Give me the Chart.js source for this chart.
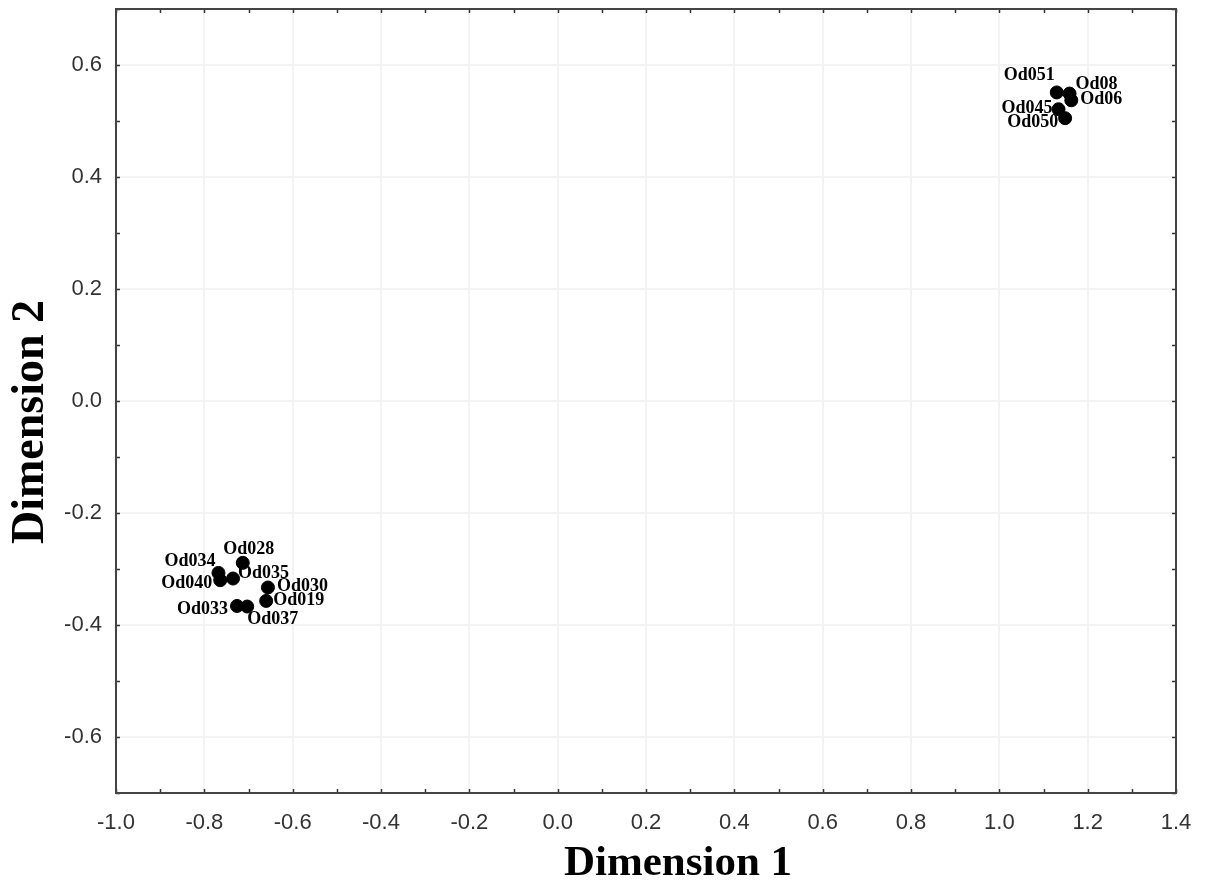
<!DOCTYPE html>
<html>
<head>
<meta charset="utf-8">
<script src="https://cdn.jsdelivr.net/npm/chart.js@4/dist/chart.umd.min.js"></script>
<style>
    html, body { margin: 0; padding: 0; background: #fff; }
    #wrap { width: 1205px; height: 888px; }
</style>
</head>
<body>
<div id="wrap"><canvas id="mdsChart"></canvas></div>
<script>
// point names and coordinates
var names = ['Od051', 'Od08', 'Od06', 'Od045', 'Od050', 'Od028', 'Od034', 'Od040', 'Od035', 'Od030', 'Od019', 'Od033', 'Od037'];
var dim1 = [1.130, 1.159, 1.163, 1.134, 1.149, -0.713, -0.768, -0.764, -0.735, -0.656, -0.660, -0.726, -0.703];
var dim2 = [0.551, 0.549, 0.537, 0.521, 0.505, -0.289, -0.307, -0.320, -0.317, -0.333, -0.357, -0.366, -0.367];

// axis ticks
var xTicks = [-1.0, -0.8, -0.6, -0.4, -0.2, 0.0, 0.2, 0.4, 0.6, 0.8, 1.0, 1.2, 1.4];
var yTicks = [-0.6, -0.4, -0.2, 0.0, 0.2, 0.4, 0.6];
var xMinor = [-0.9, -0.7, -0.5, -0.3, -0.1, 0.1, 0.3, 0.5, 0.7, 0.9, 1.1, 1.3];
var yMinor = [-0.7, -0.5, -0.3, -0.1, 0.1, 0.3, 0.5, 0.7];

// label placement next to each point: [dx, dy, align]
var labelPlace = [
    [-2, -17, 'right'], [6, -9, 'left'], [9, -1, 'left'], [-6, -1, 'right'], [-7, 4, 'right'],
    [6, -13, 'center'], [-3, -12, 'right'], [-8, 3, 'right'], [5, -5, 'left'],
    [9, -1, 'left'], [7, -1, 'left'], [-9, 3, 'right'], [0, 13, 'left']
];

var points = names.map(function (n, i) { return { x: dim1[i], y: dim2[i], name: n }; });

var framePlugin = {
    id: 'frame',
    afterDatasetsDraw: function (chart) {
        var ctx = chart.ctx, a = chart.chartArea;
        var xs = chart.scales.x, ys = chart.scales.y;
        ctx.save();
        // inward ticks on all four sides
        ctx.strokeStyle = '#333';
        ctx.lineWidth = 1.5;
        ctx.beginPath();
        xTicks.concat(xMinor).forEach(function (v) {
            var px = Math.round(xs.getPixelForValue(v)) + 0.5;
            ctx.moveTo(px, a.bottom); ctx.lineTo(px, a.bottom - 4);
            ctx.moveTo(px, a.top); ctx.lineTo(px, a.top + 4);
        });
        yTicks.concat(yMinor).forEach(function (v) {
            var py = Math.round(ys.getPixelForValue(v)) + 0.5;
            ctx.moveTo(a.left, py); ctx.lineTo(a.left + 4, py);
            ctx.moveTo(a.right, py); ctx.lineTo(a.right - 4, py);
        });
        ctx.stroke();
        // box
        ctx.strokeStyle = '#444';
        ctx.lineWidth = 2;
        ctx.strokeRect(a.left, a.top, a.right - a.left, a.bottom - a.top);

        // point labels
        ctx.fillStyle = '#000';
        ctx.font = 'bold 18px "Liberation Serif", "Times New Roman", serif';
        ctx.textBaseline = 'middle';
        points.forEach(function (p, i) {
            var pl = labelPlace[i];
            ctx.textAlign = pl[2];
            ctx.fillText(p.name, xs.getPixelForValue(p.x) + pl[0], ys.getPixelForValue(p.y) + pl[1]);
        });

        // axis titles
        ctx.textAlign = 'center';
        ctx.font = 'bold 43px "Liberation Serif", "Times New Roman", serif';
        ctx.fillText('Dimension 1', (a.left + a.right) / 2 + 32, 864);
        ctx.translate(31, (a.top + a.bottom) / 2 + 21);
        ctx.rotate(-Math.PI / 2);
        ctx.font = 'bold 46px "Liberation Serif", "Times New Roman", serif';
        ctx.fillText('Dimension 2', 0, 0);
        ctx.restore();
    }
};

var ctx = document.getElementById('mdsChart').getContext('2d');
new Chart(ctx, {
    type: 'scatter',
    data: {
        datasets: [{
            label: 'Objects',
            data: points,
            backgroundColor: '#000',
            borderColor: '#000',
            pointRadius: 6.5,
            pointHoverRadius: 6.5
        }]
    },
    options: {
        responsive: true,
        maintainAspectRatio: false,
        animation: false,
        layout: { padding: { top: 9, right: 29, left: 0, bottom: 0 } },
        plugins: {
            legend: { display: false },
            tooltip: { enabled: false }
        },
        scales: {
            x: {
                type: 'linear',
                min: -1.0,
                max: 1.4,
                afterBuildTicks: function (s) { s.ticks = xTicks.map(function (v) { return { value: v }; }); },
                afterFit: function (s) { s.height = 95; s.paddingLeft = 0; s.paddingRight = 0; },
                border: { display: false },
                grid: { color: '#f3f3f3', lineWidth: 2, drawTicks: false },
                ticks: {
                    padding: 17,
                    color: '#333',
                    font: { family: '"Liberation Sans", Arial, sans-serif', size: 22 },
                    callback: function (v) { return Number(v).toFixed(1); }
                }
            },
            y: {
                type: 'linear',
                min: -0.7,
                max: 0.7,
                afterBuildTicks: function (s) { s.ticks = yTicks.map(function (v) { return { value: v }; }); },
                afterFit: function (s) { s.width = 116; s.paddingTop = 0; s.paddingBottom = 0; },
                border: { display: false },
                grid: { color: '#f3f3f3', lineWidth: 2, drawTicks: false },
                ticks: {
                    padding: 14,
                    color: '#333',
                    font: { family: '"Liberation Sans", Arial, sans-serif', size: 22 },
                    callback: function (v) { return Number(v).toFixed(1); }
                }
            }
        }
    },
    plugins: [framePlugin]
});
</script>
</body>
</html>
